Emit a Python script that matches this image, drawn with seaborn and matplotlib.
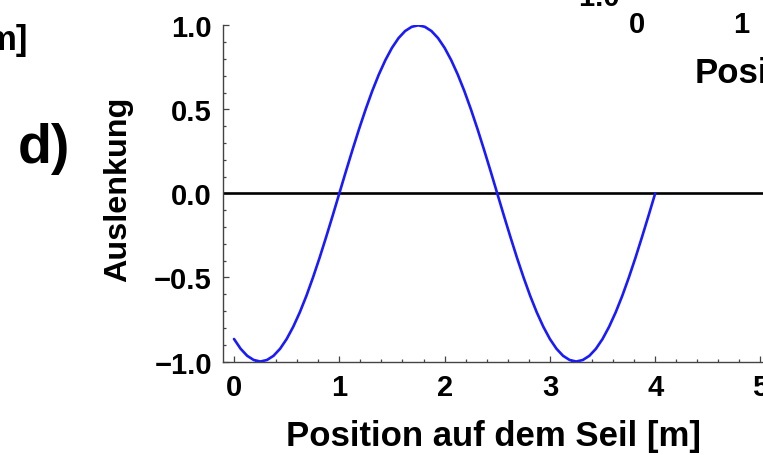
import matplotlib
matplotlib.use("Agg")
import matplotlib.pyplot as plt
import numpy as np
import pandas as pd
import seaborn as sns
from matplotlib.ticker import MultipleLocator

# position along the rope [m] and displacement
position = [
    0.0, 0.0625, 0.125, 0.1875, 0.25, 0.3125, 0.375, 0.4375,
    0.5, 0.5625, 0.625, 0.6875, 0.75, 0.8125, 0.875, 0.9375,
    1.0, 1.0625, 1.125, 1.1875, 1.25, 1.3125, 1.375, 1.4375,
    1.5, 1.5625, 1.625, 1.6875, 1.75, 1.8125, 1.875, 1.9375,
    2.0, 2.0625, 2.125, 2.1875, 2.25, 2.3125, 2.375, 2.4375,
    2.5, 2.5625, 2.625, 2.6875, 2.75, 2.8125, 2.875, 2.9375,
    3.0, 3.0625, 3.125, 3.1875, 3.25, 3.3125, 3.375, 3.4375,
    3.5, 3.5625, 3.625, 3.6875, 3.75, 3.8125, 3.875, 3.9375,
    4.0,
]
auslenkung = [
    -0.866, -0.924, -0.966, -0.991, -1.0, -0.991, -0.966, -0.924,
    -0.866, -0.793, -0.707, -0.609, -0.5, -0.383, -0.259, -0.131,
    0.0, 0.131, 0.259, 0.383, 0.5, 0.609, 0.707, 0.793,
    0.866, 0.924, 0.966, 0.991, 1.0, 0.991, 0.966, 0.924,
    0.866, 0.793, 0.707, 0.609, 0.5, 0.383, 0.259, 0.131,
    0.0, -0.131, -0.259, -0.383, -0.5, -0.609, -0.707, -0.793,
    -0.866, -0.924, -0.966, -0.991, -1.0, -0.991, -0.966, -0.924,
    -0.866, -0.793, -0.707, -0.609, -0.5, -0.383, -0.259, -0.131,
    0.0,
]

x_ticks = [0, 1, 2, 3, 4, 5]
y_ticks = [-1.0, -0.5, 0.0, 0.5, 1.0]

df = pd.DataFrame({"x": position, "y": auslenkung})

sns.set_theme(style="white")
plt.rcParams["font.family"] = ["Liberation Sans", "DejaVu Sans"]
plt.rcParams["font.weight"] = "bold"
plt.rcParams["text.color"] = "black"
plt.rcParams["axes.labelcolor"] = "black"
plt.rcParams["xtick.labelcolor"] = "black"
plt.rcParams["ytick.labelcolor"] = "black"

fig = plt.figure(figsize=(7.63, 4.56), dpi=100)
ax = fig.add_axes([0.2923, 0.205, 0.7077, 0.7373])

ax.axhline(0, color="black", lw=1.9, zorder=2)
sns.lineplot(data=df, x="x", y="y", color="#1a1aff", lw=1.9, ax=ax, zorder=3)

ax.set_xlim(-0.1045, 5.024)
ax.set_ylim(-1.0, 1.0)
ax.set_xticks(x_ticks)
ax.set_yticks(y_ticks)
ax.set_xticklabels([str(t) for t in x_ticks])
ax.set_yticklabels([f"{t:.1f}".replace("-", "\u2212") for t in y_ticks])
ax.xaxis.set_minor_locator(MultipleLocator(0.2))
ax.yaxis.set_minor_locator(MultipleLocator(0.1))

ax.tick_params(which="major", direction="in", length=4.5, width=0.9,
               color="#444444", labelsize=21, pad=8)
ax.tick_params(which="minor", direction="in", length=2.3, width=0.9,
               color="#444444")
ax.tick_params(axis="x", which="both", bottom=True, top=False)
ax.tick_params(axis="y", which="both", left=True, right=False)
for lbl in ax.get_xticklabels() + ax.get_yticklabels():
    lbl.set_fontweight("bold")

for side in ["top", "right"]:
    ax.spines[side].set_visible(False)
for side in ["left", "bottom"]:
    ax.spines[side].set_color("#444444")
    ax.spines[side].set_linewidth(1.0)
    ax.spines[side].set_zorder(4)

ax.set_xlabel("Position auf dem Seil [m]", fontsize=25, fontweight="bold",
              labelpad=13)
ax.set_ylabel("Auslenkung", fontsize=23.3, fontweight="bold")
ax.yaxis.set_label_coords(-0.166, 0.515)

# panel letter and pieces of neighbouring panels
fig.text(18 / 763, 1 - 163 / 456, "d)", fontsize=40, fontweight="bold",
         ha="left", va="baseline")
fig.text(28 / 763, 1 - 50 / 456, "m]", fontsize=25, fontweight="bold",
         ha="right", va="baseline")
fig.text(620 / 763, 1 - 6 / 456, "\u22121.0", fontsize=21, fontweight="bold",
         ha="right", va="baseline")
fig.text(637 / 763, 1 - 33 / 456, "0", fontsize=21, fontweight="bold",
         ha="center", va="baseline")
fig.text(741 / 763, 1 - 33 / 456, "1", fontsize=21, fontweight="bold",
         ha="center", va="baseline")
fig.text(695 / 763, 1 - 83 / 456, "Position", fontsize=25, fontweight="bold",
         ha="left", va="baseline")

fig.savefig("out.png", dpi=100)
